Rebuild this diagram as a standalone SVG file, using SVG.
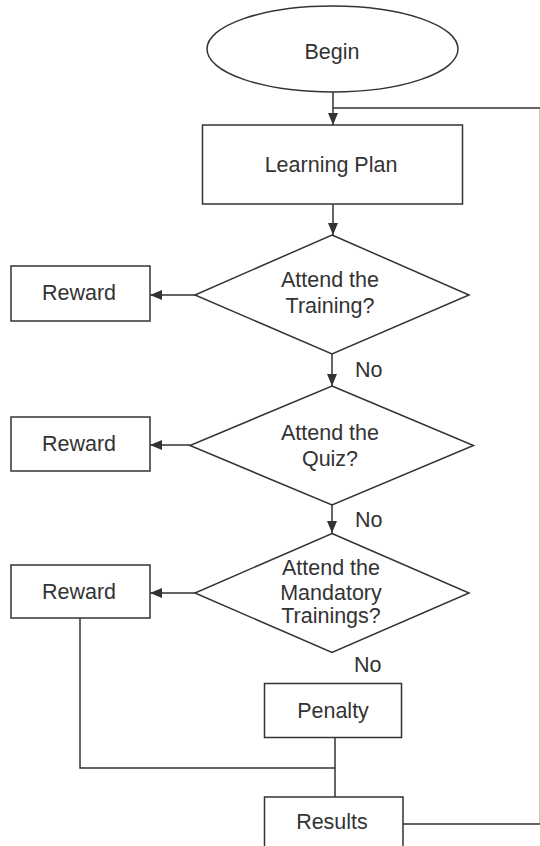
<svg xmlns="http://www.w3.org/2000/svg" width="540" height="846" viewBox="0 0 540 846">
<defs>
<style>
.s{fill:#fff;stroke:#333;stroke-width:1.5}
.c{fill:none;stroke:#333;stroke-width:1.5}
text{font-family:"Liberation Sans",Arial,sans-serif;font-size:21.5px;fill:#333;text-anchor:middle}
.l{text-anchor:start}
</style>
<marker id="arr" viewBox="0 0 12 10" refX="12" refY="5" markerWidth="12" markerHeight="10" markerUnits="userSpaceOnUse" orient="auto">
<path d="M0,0 L12,5 L0,10 z" fill="#333"/>
</marker>
</defs>
<rect width="540" height="846" fill="#fff"/>
<g id="connectors">
<line class="c" x1="333" y1="92" x2="333" y2="125" marker-end="url(#arr)"/>
<polyline class="c" points="403,824 540.5,824 540.5,108 333,108"/>
<line class="c" x1="333" y1="204" x2="333" y2="235" marker-end="url(#arr)"/>
<line class="c" x1="195" y1="295" x2="150" y2="295" marker-end="url(#arr)"/>
<line class="c" x1="332" y1="354" x2="332" y2="386" marker-end="url(#arr)"/>
<line class="c" x1="190" y1="445" x2="150" y2="445" marker-end="url(#arr)"/>
<line class="c" x1="332" y1="505" x2="332" y2="533" marker-end="url(#arr)"/>
<line class="c" x1="195" y1="593" x2="150" y2="593" marker-end="url(#arr)"/>
<polyline class="c" points="80,618 80,768 335,768"/>
<line class="c" x1="335" y1="737" x2="335" y2="797"/>
<text class="l" x="355" y="377">No</text>
<text class="l" x="355" y="527">No</text>
<text class="l" x="354" y="672">No</text>
</g>
<g id="begin">
<ellipse class="s" cx="332.5" cy="49" rx="125.5" ry="43"/>
<text x="332" y="59">Begin</text>
</g>
<g id="learning-plan">
<rect class="s" x="202.5" y="125" width="260" height="79"/>
<text x="331" y="172">Learning Plan</text>
</g>
<g id="decision-training">
<polygon class="s" points="332,235 469,295 332,354 195,295"/>
<text x="330" y="287">Attend the</text>
<text x="330" y="313">Training?</text>
</g>
<g id="reward-1">
<rect class="s" x="11" y="266" width="139" height="55"/>
<text x="79" y="300">Reward</text>
</g>
<g id="decision-quiz">
<polygon class="s" points="332,386 473.5,445.5 332,505 190,445.5"/>
<text x="330" y="440">Attend the</text>
<text x="330" y="466">Quiz?</text>
</g>
<g id="reward-2">
<rect class="s" x="11" y="417" width="139" height="54"/>
<text x="79" y="451">Reward</text>
</g>
<g id="decision-mandatory">
<polygon class="s" points="332,533.5 469,593 332,652.5 195,593"/>
<text x="331" y="575">Attend the</text>
<text x="331" y="600">Mandatory</text>
<text x="331" y="623">Trainings?</text>
</g>
<g id="reward-3">
<rect class="s" x="11" y="565" width="139" height="53"/>
<text x="79" y="599">Reward</text>
</g>
<g id="penalty">
<rect class="s" x="264.5" y="683.5" width="137" height="54"/>
<text x="333" y="718">Penalty</text>
</g>
<g id="results">
<rect class="s" x="264.5" y="797" width="138.5" height="60"/>
<text x="332" y="829">Results</text>
</g>
</svg>
